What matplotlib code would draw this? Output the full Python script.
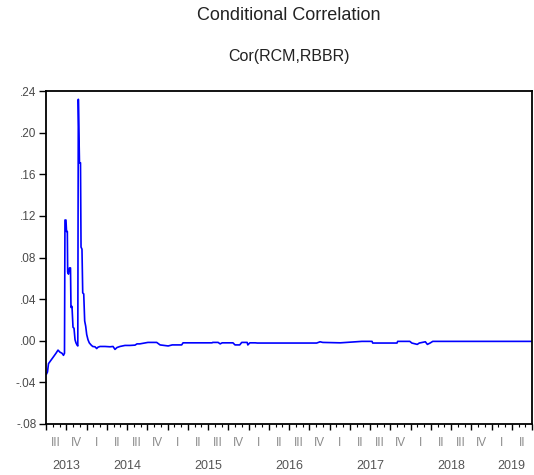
import matplotlib
matplotlib.use("Agg")
import matplotlib.pyplot as plt
import matplotlib.transforms as mtransforms
from matplotlib.ticker import FixedLocator, FuncFormatter, MultipleLocator
import numpy as np

plt.rcParams['font.family'] = ['Liberation Sans', 'DejaVu Sans']

# time in months counted from July 2013 (0 = 2013:07, 72 = 2019:07)
month = [0.07, 0.22, 0.37, 0.59, 1.04, 1.48, 1.78, 2.07, 2.37, 2.59, 2.74,
         2.81, 2.96, 3.04, 3.16, 3.21, 3.33, 3.48, 3.63, 3.70, 3.85, 4.00,
         4.15, 4.30, 4.44, 4.59, 4.71, 4.79, 4.96, 5.11, 5.19, 5.33, 5.44,
         5.59, 5.73, 5.88, 6.03, 6.22, 6.41, 6.67, 6.92, 7.26, 7.51, 7.70,
         8.00, 8.74, 9.48, 9.93, 10.22, 10.52, 10.96, 11.70, 12.44, 13.19,
         13.48, 13.90, 15.10, 16.40, 16.90, 18.10, 18.70, 20.10, 20.30,
         24.60, 24.70, 25.50, 25.80, 26.10, 27.70, 28.00, 28.70, 29.00,
         29.80, 29.90, 30.20, 31.00, 31.30, 40.10, 40.60, 41.00, 43.60,
         46.80, 48.30, 48.40, 52.00, 52.10, 53.90, 54.20, 55.00, 55.30,
         56.20, 56.50, 56.90, 57.30, 72.00]
cor = [-0.032, -0.030, -0.022, -0.020, -0.016, -0.012, -0.009, -0.011,
       -0.012, -0.014, -0.012, 0.116, 0.116, 0.105, 0.105, 0.066, 0.064,
       0.070, 0.070, 0.032, 0.033, 0.013, 0.012, 0.001, -0.002, -0.004,
       -0.005, 0.232, 0.171, 0.171, 0.090, 0.088, 0.046, 0.045, 0.019,
       0.014, 0.006, 0.001, -0.002, -0.004, -0.0055, -0.0058, -0.0075,
       -0.0062, -0.0055, -0.0055, -0.0058, -0.0055, -0.0083, -0.0065,
       -0.0055, -0.0045, -0.0045, -0.0042, -0.003, -0.003, -0.0016,
       -0.0016, -0.004, -0.005, -0.004, -0.004, -0.002, -0.002, -0.0016,
       -0.0016, -0.003, -0.002, -0.002, -0.004, -0.004, -0.0016, -0.0016,
       -0.004, -0.002, -0.002, -0.0022, -0.0022, -0.001, -0.0016, -0.002,
       -0.0006, -0.0006, -0.0022, -0.0022, -0.0006, -0.0006, -0.0022,
       -0.0035, -0.0022, -0.001, -0.0035, -0.0022, -0.0006, -0.0006]

quarter_names = ['III', 'IV', 'I', 'II'] * 6
years = ['2013', '2014', '2015', '2016', '2017', '2018', '2019']

fig = plt.figure(figsize=(5.34, 4.75), dpi=100)
ax = fig.add_axes([46 / 534, 51 / 475, 486 / 534, 333 / 475])

ax.plot(month, cor, color='#0000ff', lw=1.2)

ax.set_xlim(0, 72)
ax.set_ylim(-0.08, 0.24)

# y axis: EViews-style labels without the leading zero
ax.yaxis.set_major_locator(MultipleLocator(0.04))
ax.yaxis.set_major_formatter(FuncFormatter(
    lambda v, p: ('-' if v < -1e-9 else '') + ('%.2f' % abs(v))[1:]))
ax.tick_params(axis='y', direction='out', length=5, width=1.0,
               labelsize=8.5, labelcolor='#4a4a4a', pad=2)

# x axis: long ticks every quarter, short ticks every month
ax.xaxis.set_major_locator(FixedLocator(np.arange(0, 73, 3)))
ax.xaxis.set_minor_locator(FixedLocator(np.arange(0, 73, 1)))
ax.tick_params(axis='x', which='major', direction='out', length=4, width=1.0,
               labelbottom=False)
ax.tick_params(axis='x', which='minor', direction='out', length=2, width=0.8)

for s in ax.spines.values():
    s.set_linewidth(1.3)

trans = mtransforms.blended_transform_factory(ax.transData, ax.transAxes)
for i, q in enumerate(quarter_names):
    ax.text(i * 3 + 1.5, -0.056, q, transform=trans, ha='center', va='center',
            fontsize=8.5, color='#8a8a8a')

for i, y in enumerate(years):
    start = max(i * 12 - 6, 0)
    end = min(i * 12 + 6, 72)
    ax.text((start + end) / 2, -0.125, y, transform=trans, ha='center',
            va='center', fontsize=9, color='#555555')

fig.text(289 / 534, 1 - 16 / 475, 'Conditional Correlation', ha='center',
         va='center', fontsize=13, color='#222222')
fig.text(289 / 534, 1 - 56 / 475, 'Cor(RCM,RBBR)', ha='center',
         va='center', fontsize=11.5, color='#222222')

fig.savefig('out.png', dpi=100)
